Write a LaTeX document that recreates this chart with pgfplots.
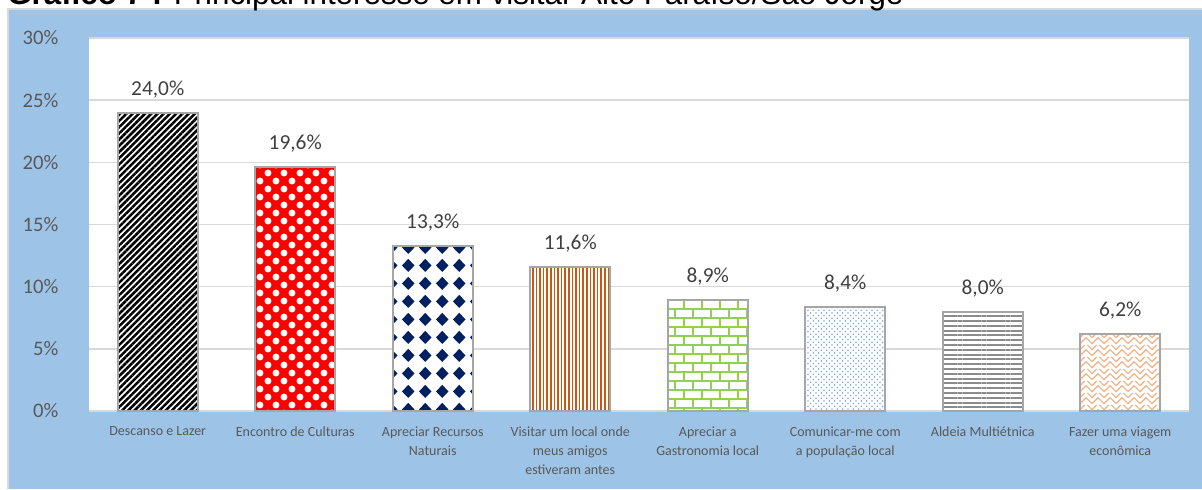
\documentclass[border=0pt]{standalone}
\usepackage{fontspec}
\setmainfont{Carlito}
\newfontfamily\titlefont{Liberation Sans}
\usepackage{pgfplots}
\pgfplotsset{compat=1.18}
\usetikzlibrary{patterns,patterns.meta}

\definecolor{bgblue}{HTML}{9DC3E6}
\definecolor{gridgray}{HTML}{D9D9D9}
\definecolor{txtgray}{HTML}{595959}
\definecolor{lblgray}{HTML}{404040}
\definecolor{barborder}{HTML}{A6A6A6}
\definecolor{navyA}{HTML}{002060}
\definecolor{orangeA}{HTML}{C65911}
\definecolor{greenA}{HTML}{92D050}
\definecolor{lblue}{HTML}{8DB4E2}
\definecolor{grayA}{HTML}{8C8C8C}
\definecolor{peach}{HTML}{F4B183}

\pgfdeclarepatternformonly{whitedots}{\pgfqpoint{-1pt}{-1pt}}{\pgfqpoint{13pt}{13pt}}{\pgfqpoint{12pt}{12pt}}{%
  \pgfpathcircle{\pgfqpoint{3pt}{3pt}}{2.6pt}%
  \pgfpathcircle{\pgfqpoint{9pt}{9pt}}{2.6pt}%
  \pgfusepath{fill}}

\pgfdeclarepatternformonly{diamonds}{\pgfqpoint{0pt}{0pt}}{\pgfqpoint{12.5pt}{13.5pt}}{\pgfqpoint{12.5pt}{13.5pt}}{%
  \pgfpathmoveto{\pgfqpoint{6.25pt}{1.6pt}}%
  \pgfpathlineto{\pgfqpoint{11.0pt}{6.75pt}}%
  \pgfpathlineto{\pgfqpoint{6.25pt}{11.9pt}}%
  \pgfpathlineto{\pgfqpoint{1.5pt}{6.75pt}}%
  \pgfpathclose
  \pgfusepath{fill}}

\pgfdeclarepatternformonly{bricksB}{\pgfqpoint{-1pt}{-1pt}}{\pgfqpoint{14.5pt}{14.5pt}}{\pgfqpoint{13.5pt}{13.5pt}}{%
  \pgfsetlinewidth{1.4pt}%
  \pgfpathmoveto{\pgfqpoint{-1pt}{0pt}}\pgfpathlineto{\pgfqpoint{14.5pt}{0pt}}%
  \pgfpathmoveto{\pgfqpoint{-1pt}{6.75pt}}\pgfpathlineto{\pgfqpoint{14.5pt}{6.75pt}}%
  \pgfpathmoveto{\pgfqpoint{0pt}{0pt}}\pgfpathlineto{\pgfqpoint{0pt}{6.75pt}}%
  \pgfpathmoveto{\pgfqpoint{6.75pt}{6.75pt}}\pgfpathlineto{\pgfqpoint{6.75pt}{13.5pt}}%
  \pgfusepath{stroke}}

\pgfdeclarepatternformonly{smalldots}{\pgfqpoint{-1pt}{-1pt}}{\pgfqpoint{5pt}{5pt}}{\pgfqpoint{4pt}{4pt}}{%
  \pgfpathcircle{\pgfqpoint{0pt}{0pt}}{0.7pt}%
  \pgfpathcircle{\pgfqpoint{2pt}{2pt}}{0.7pt}%
  \pgfusepath{fill}}

\pgfdeclarepatternformonly{weave}{\pgfqpoint{-1pt}{-1pt}}{\pgfqpoint{10pt}{10pt}}{\pgfqpoint{9pt}{9pt}}{%
  \pgfsetlinewidth{0.9pt}%
  \pgfpathmoveto{\pgfqpoint{0pt}{1pt}}\pgfpathlineto{\pgfqpoint{4.5pt}{5.5pt}}\pgfpathlineto{\pgfqpoint{9pt}{1pt}}%
  \pgfpathmoveto{\pgfqpoint{0pt}{5.5pt}}\pgfpathlineto{\pgfqpoint{3.5pt}{9pt}}%
  \pgfpathmoveto{\pgfqpoint{9pt}{5.5pt}}\pgfpathlineto{\pgfqpoint{5.5pt}{9pt}}%
  \pgfusepath{stroke}}

\pgfplotsset{
  barbase/.style={ybar, bar width=60pt, draw=none},
  barpat/.style={ybar, bar width=60pt, draw=barborder, line width=1.5pt,
    nodes near coords={\pgfmathprintnumber[fixed,fixed zerofill,precision=1,use comma]{\pgfplotspointmeta}\%},
    every node near coord/.append style={font=\fontsize{16}{19}\selectfont, text=lblgray, yshift=7pt}},
}

\begin{document}
\begin{tikzpicture}[x=0.75pt,y=0.75pt]
\useasboundingbox (0,0) rectangle (1202,489);
\begin{scope}
\clip (0,0) rectangle (1202,489);
\fill[bgblue] (8,0) rectangle (1202,479);
\draw[gridgray, line width=1.5pt] (8,0) -- (8,479.5) -- (1202,479.5);
\node[anchor=base west, inner sep=0, font=\titlefont\fontsize{23.5}{28}\selectfont] at (7,484) {\textbf{Gráfico 7 :} Principal interesse em visitar Alto Paraíso/São Jorge};
\end{scope}
\begin{axis}[
  at={(66.75pt,58.5pt)}, anchor=south west,
  width=825pt, height=279.75pt, scale only axis,
  xmin=-0.5, xmax=7.5, ymin=0, ymax=30,
  axis line style={draw=none},
  axis background/.style={fill=white},
  ymajorgrids, grid style={gridgray, line width=1.1pt},
  major tick length=0pt,
  ytick={0,5,...,30},
  yticklabel={\pgfmathprintnumber{\tick}\%},
  yticklabel style={font=\fontsize{15.5}{18}\selectfont, text=txtgray, xshift=-19.5pt},
  xtick={0,...,7},
  xticklabels={{Descanso e Lazer},{Encontro de Culturas},{Apreciar Recursos\\Naturais},{Visitar um local onde\\meus amigos\\estiveram antes},{Apreciar a\\Gastronomia local},{Comunicar-me com\\a população local},{Aldeia Multiétnica},{Fazer uma viagem\\econômica}},
  xticklabel style={font=\fontsize{10.5}{14.5}\selectfont, text=txtgray, align=center, yshift=-8pt},
  /pgf/number format/assume math mode=true,
  clip=false,
]
% white / red backgrounds of the bars
\addplot[barbase, fill=white] coordinates {(0,24.0) (2,13.3) (3,11.6) (4,8.9) (5,8.4) (6,8.0) (7,6.2)};
\addplot[barbase, fill=red] coordinates {(1,19.6)};
% patterned bars with labels
\addplot[barpat, pattern={Lines[angle=45,distance=3.3pt,line width=1.9pt]}, pattern color=black] coordinates {(0,24.0)};
\addplot[barpat, pattern=whitedots, pattern color=white] coordinates {(1,19.6)};
\addplot[barpat, pattern=diamonds, pattern color=navyA] coordinates {(2,13.3)};
\addplot[barpat, pattern={Lines[angle=90,distance=2.7pt,line width=1.3pt]}, pattern color=orangeA] coordinates {(3,11.6)};
\addplot[barpat, pattern=bricksB, pattern color=greenA] coordinates {(4,8.9)};
\addplot[barpat, pattern=smalldots, pattern color=lblue] coordinates {(5,8.4)};
\addplot[barpat, pattern={Lines[angle=0,distance=3.6pt,line width=1.5pt]}, pattern color=grayA] coordinates {(6,8.0)};
\addplot[barpat, pattern=weave, pattern color=peach] coordinates {(7,6.2)};
\end{axis}
\end{tikzpicture}
\end{document}
